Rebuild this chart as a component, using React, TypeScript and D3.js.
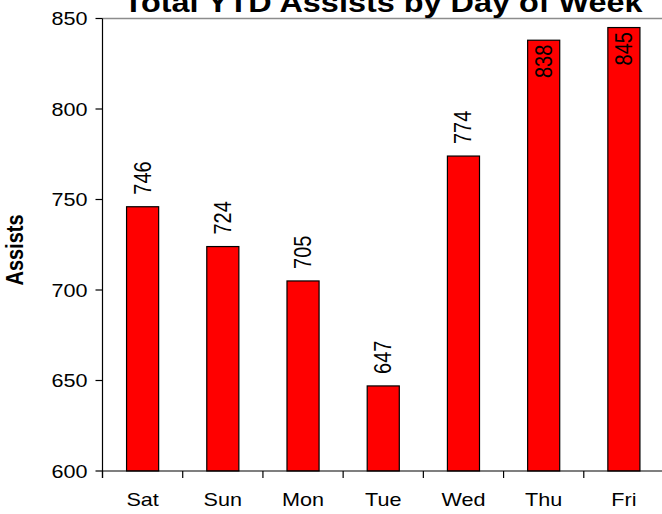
import React from "react";
import * as d3 from "d3";

const days = ["Sat", "Sun", "Mon", "Tue", "Wed", "Thu", "Fri"];
const assists = [746, 724, 705, 647, 774, 838, 845];
const yTicks = [600, 650, 700, 750, 800, 850];
const titleText = "Total YTD Assists by Day of Week";
const yAxisLabel = "Assists";

const W = 662;
const H = 514;
const left = 102.5;
const right = 664;
const top = 18.5;
const bottom = 471;
const SX = 1.2;
const FONT = "'Liberation Sans', Arial, Helvetica, sans-serif";

export default function App() {
  const x = d3.scaleBand<string>().domain(days).range([left, right]).paddingInner(0.6).paddingOuter(0.3);
  const y = d3.scaleLinear().domain([600, 850]).range([bottom, top]);
  const step = x.step();
  const bw = x.bandwidth();
  const boundaries = d3.range(days.length + 1).map((i) => left + i * step);

  return (
    <svg width={W} height={H} style={{ position: "absolute", left: 0, top: 0 }} fontFamily={FONT}>
      <rect x={0} y={0} width={W} height={H} fill="#fff" />
      {/* plot top border */}
      <line x1={left} x2={W} y1={top} y2={top} stroke="#8c8c8c" strokeWidth={1.5} />
      {/* bars */}
      {days.map((d, i) => {
        const v = assists[i];
        const bx = x(d)!;
        const by = y(v);
        return (
          <rect key={d} x={bx} y={by} width={bw} height={bottom - by} fill="#ff0000" stroke="#000" strokeWidth={1.2} />
        );
      })}
      {/* value labels */}
      {days.map((d, i) => {
        const v = assists[i];
        const cx = x(d)! + bw / 2;
        const by = y(v);
        const inside = by - 12 - 36 < top;
        const ly = inside ? by + 4.5 : by - 12;
        return (
          <text
            key={d}
            transform={`translate(${cx + 8},${ly}) scale(${SX},1) rotate(-90)`}
            fontSize={20}
            textAnchor={inside ? "end" : "start"}
            fill="#000"
          >
            {v}
          </text>
        );
      })}
      {/* y axis */}
      <line x1={left} x2={left} y1={top} y2={bottom + 7} stroke="#000" strokeWidth={1.2} />
      {yTicks.map((t) => (
        <g key={t}>
          <line x1={left - 7} x2={left} y1={y(t)} y2={y(t)} stroke="#000" strokeWidth={1.2} />
          <text transform={`translate(${left - 15},${y(t) + 6.5}) scale(${SX},1)`} fontSize={18} textAnchor="end" fill="#000">
            {t}
          </text>
        </g>
      ))}
      {/* x axis */}
      <line x1={left} x2={W} y1={bottom} y2={bottom} stroke="#000" strokeWidth={1.2} />
      {boundaries.map((bx, i) => (
        <line key={i} x1={bx} x2={bx} y1={bottom} y2={bottom + 7} stroke="#000" strokeWidth={1.2} />
      ))}
      {days.map((d) => (
        <text key={d} transform={`translate(${x(d)! + bw / 2},${506}) scale(${SX},1)`} fontSize={18} textAnchor="middle" fill="#000">
          {d}
        </text>
      ))}
      {/* y axis title */}
      <text
        transform={`translate(${23},${250}) scale(${SX},1) rotate(-90)`}
        fontSize={20}
        fontWeight="bold"
        textAnchor="middle"
        fill="#000"
      >
        {yAxisLabel}
      </text>
      {/* chart title */}
      <text transform={`translate(${383},${12}) scale(${SX},1)`} fontSize={27} fontWeight="bold" textAnchor="middle" fill="#000">
        {titleText}
      </text>
    </svg>
  );
}
